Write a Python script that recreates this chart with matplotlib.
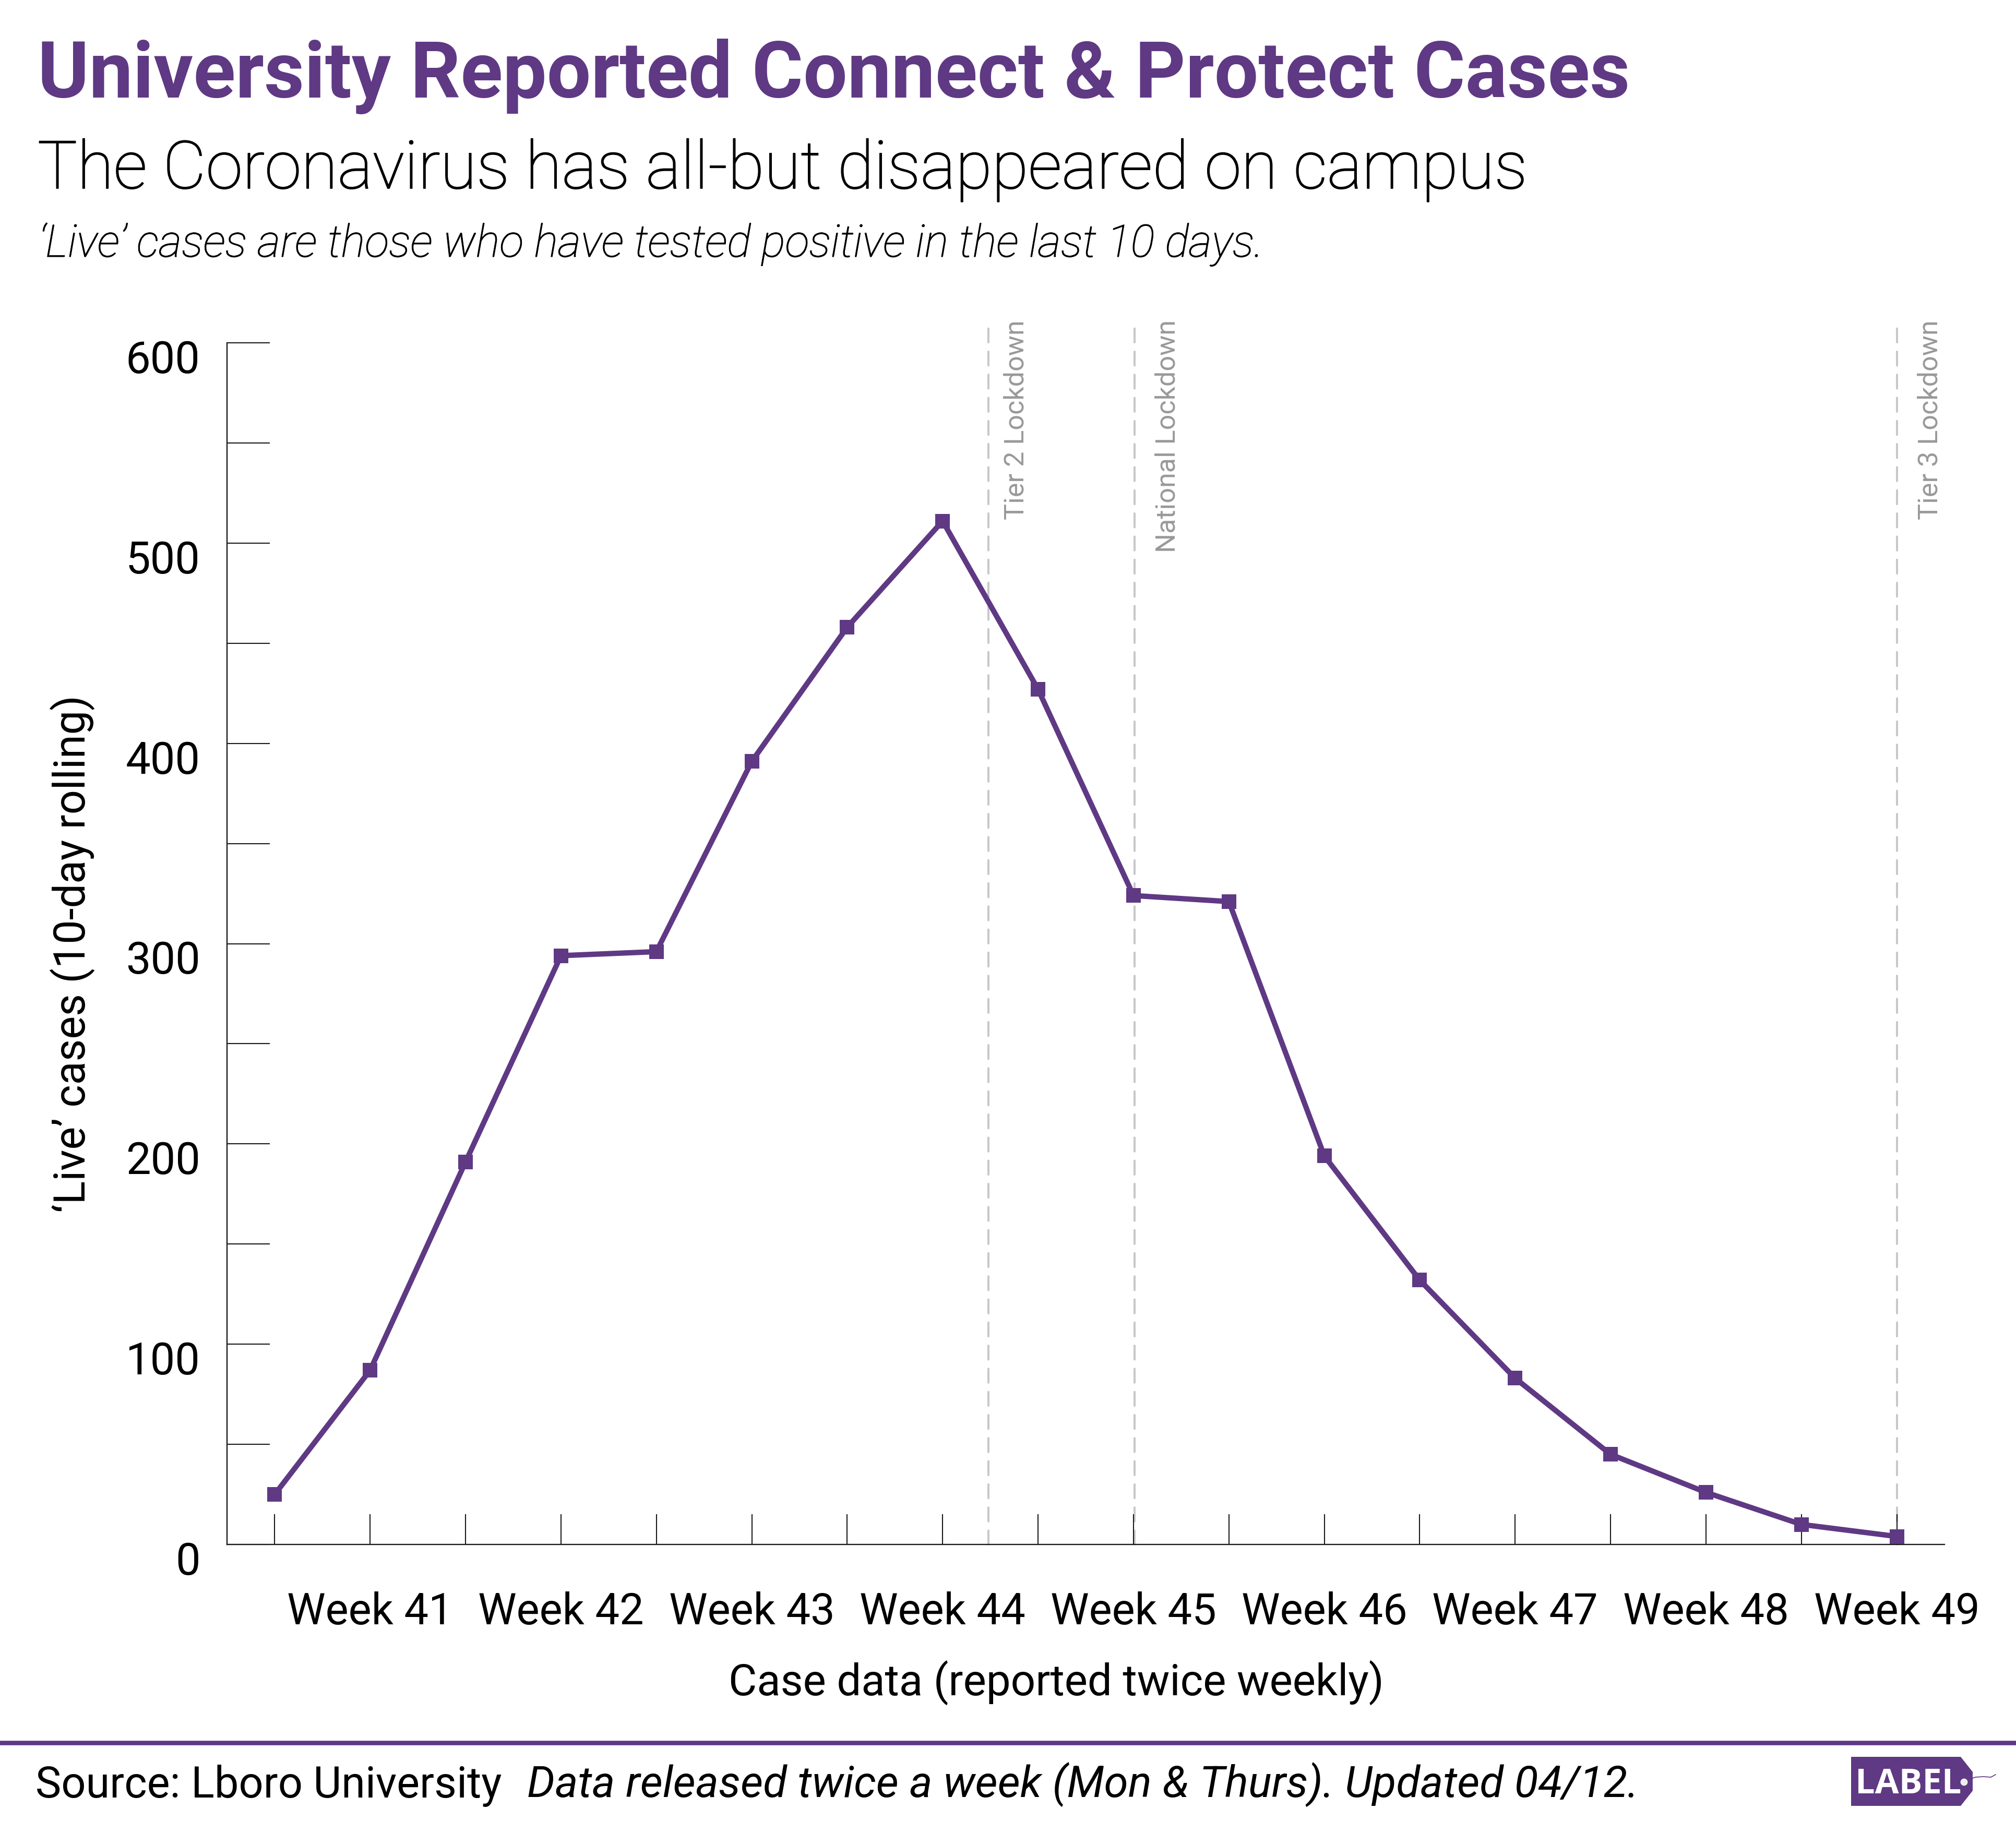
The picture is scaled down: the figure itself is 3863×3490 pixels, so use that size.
import matplotlib
matplotlib.use("Agg")
import matplotlib.pyplot as plt
import matplotlib.patheffects as pe
from matplotlib.patches import Polygon
from matplotlib.lines import Line2D
from matplotlib.transforms import ScaledTranslation

W, H = 3863, 3491
PURPLE = "#5f3984"

x_index = list(range(18))
cases = [25, 87, 191, 294, 296, 391, 458, 511, 427, 324, 321, 194, 132, 83, 45, 26, 10, 4]
week_labels = ["", "Week 41", "", "Week 42", "", "Week 43", "", "Week 44", "", "Week 45", "",
               "Week 46", "", "Week 47", "", "Week 48", "", "Week 49"]
y_major = [0, 100, 200, 300, 400, 500, 600]
y_minor = [50, 150, 250, 350, 450, 550]
event_x = [7.48, 9.01, 17]
event_labels = ["Tier 2 Lockdown", "National Lockdown", "Tier 3 Lockdown"]
event_offsets_px = [28, 39, 39]

plt.rcParams["font.family"] = ["Roboto", "DejaVu Sans"]
fig = plt.figure(figsize=(W / 100, H / 100), dpi=100, facecolor="white")
ax = fig.add_axes([435 / W, 1 - 2961 / H, (3726 - 435) / W, (2961 - 658) / H])
ax.set_xlim(-0.5, 17.5)
ax.set_ylim(0, 600)
for s in ("top", "right"):
    ax.spines[s].set_visible(False)
for s in ("left", "bottom"):
    ax.spines[s].set_linewidth(1.7)
    ax.spines[s].set_color("#1a1a1a")

ax.set_xticks(x_index)
ax.set_xticklabels(week_labels, fontsize=59.8, color="black")
ax.tick_params(axis="x", direction="in", length=42, width=1.5, color="#1a1a1a", pad=64)
ax.set_yticks(y_major)
ax.set_yticklabels([str(v) for v in y_major], fontsize=61, color="black")
ax.set_yticks(y_minor, minor=True)
ax.tick_params(axis="y", which="both", direction="in", length=59, width=1.5, color="#1a1a1a", pad=37)
for lab in ax.get_yticklabels():
    lab.set_transform(lab.get_transform() + ScaledTranslation(0, -25 / 100, fig.dpi_scale_trans))

for x, lab, off in zip(event_x, event_labels, event_offsets_px):
    ax.plot([x, x], [0, 610], color="#c8c8c8", lw=2.9, clip_on=False, zorder=1,
            dashes=(6.6, 4.4), dash_capstyle="round")
    trans = ax.get_xaxis_transform()
    ax.text(x, 1.0195, lab, rotation=90, ha="left", va="top", fontsize=37.5, color="#999999",
            transform=trans + ScaledTranslation(off / 100, 0, fig.dpi_scale_trans),
            clip_on=False)

ax.plot(x_index, cases, color=PURPLE, lw=7.4, marker="s", ms=20.5, mew=0, zorder=3, clip_on=False,
        solid_joinstyle="miter")

def put(x, y, s, **kw):
    return fig.text(x / W, 1 - y / H, s, **kw)

put(72, 187, "University Reported Connect & Protect Cases", fontsize=108, fontweight="bold",
    color=PURPLE, va="baseline")
sub = put(72, 362, "The Coronavirus has all-but disappeared on campus", fontsize=91.6, fontweight="light",
          color="black", va="baseline")
sub.set_path_effects([pe.withStroke(linewidth=1.2, foreground="black")])
note = put(74, 493, "‘Live’ cases are those who have tested positive in the last 10 days.", fontsize=61.8,
           fontweight="light", style="italic", color="black", va="baseline")
note.set_path_effects([pe.withStroke(linewidth=0.8, foreground="black")])
put(163, 1828, "‘Live’ cases (10-day rolling)", fontsize=59.6, rotation=90, ha="center", va="baseline",
    rotation_mode="anchor", color="black")
put(2024, 3225, "Case data (reported twice weekly)", fontsize=60, ha="center", va="center", color="black")
put(68, 3445, "Source: Lboro University", fontsize=59.7, color="black", va="baseline")
put(1010, 3445, "Data released twice a week (Mon & Thurs). Updated 04/12.", fontsize=60.4, style="italic",
    color="black", va="baseline")

fig.add_artist(Line2D([0, 1], [1 - 3340.5 / H] * 2, color=PURPLE, lw=6.2, transform=fig.transFigure))

def fpt(x, y):
    return (x / W, 1 - y / H)

fig.add_artist(Polygon([fpt(3547, 3368), fpt(3757, 3368), fpt(3780, 3397), fpt(3780, 3433),
                        fpt(3757, 3462), fpt(3547, 3462)], closed=True, facecolor=PURPLE,
                       edgecolor="none", transform=fig.transFigure))
put(3657, 3437, "LABEL", fontsize=48, fontweight="bold", color="white", ha="center", va="baseline",
    family=["Open Sans", "DejaVu Sans"])
fig.add_artist(Line2D([3763 / W, 3785 / W, 3800 / W, 3815 / W, 3824 / W],
                      [1 - 3416 / H, 1 - 3407 / H, 1 - 3406 / H, 1 - 3407 / H, 1 - 3402 / H],
                      color=PURPLE, lw=1.2, transform=fig.transFigure))
fig.add_artist(Line2D([3763 / W], [1 - 3416 / H], marker="o", ms=10, mfc="#eeeeee", mew=0,
                      transform=fig.transFigure))

fig.savefig("out.png", dpi=100, facecolor="white")
